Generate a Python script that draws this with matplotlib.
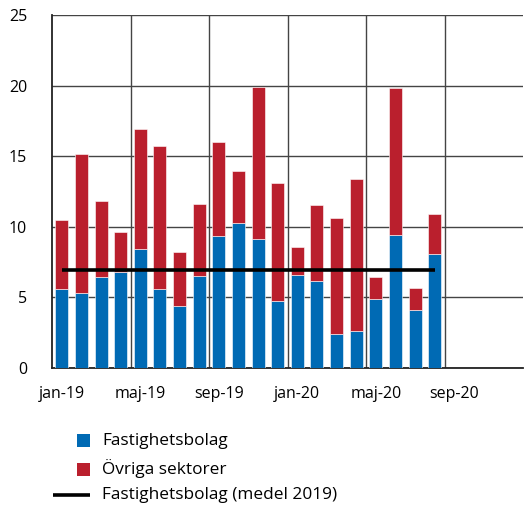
import matplotlib
matplotlib.use("Agg")
import matplotlib.pyplot as plt
from matplotlib.patches import Rectangle
from matplotlib.lines import Line2D
import numpy as np

plt.rcParams['font.family'] = ['Open Sans', 'DejaVu Sans']

months = ["jan-19", "feb-19", "mar-19", "apr-19", "maj-19", "jun-19", "jul-19", "aug-19",
          "sep-19", "okt-19", "nov-19", "dec-19", "jan-20", "feb-20", "mar-20", "apr-20",
          "maj-20", "jun-20", "jul-20", "aug-20"]
fastighetsbolag = [5.63, 5.32, 6.45, 6.81, 8.44, 5.56, 4.37, 6.50, 9.34, 10.28, 9.15, 4.78,
                   6.57, 6.19, 2.41, 2.62, 4.89, 9.41, 4.14, 8.04]
totalt = [10.50, 15.18, 11.82, 9.60, 16.90, 15.72, 8.23, 11.63, 15.98, 13.93, 19.90, 13.08,
          8.58, 11.51, 10.59, 13.38, 6.43, 19.80, 5.65, 10.92]
ovriga = [t - f for t, f in zip(totalt, fastighetsbolag)]
medel_2019 = 6.93

tick_labels = ["jan-19", "maj-19", "sep-19", "jan-20", "maj-20", "sep-20"]
tick_pos = [0, 4, 8, 12, 16, 20]

BLUE = "#006AB4"
RED = "#BA1F2D"

W, H = 524, 509
fig = plt.figure(figsize=(W / 100, H / 100), dpi=100)
ax = fig.add_axes([52 / W, 1 - 368 / H, (523 - 52) / W, (368 - 15) / H])

x = np.arange(len(months))
ax.bar(x, fastighetsbolag, width=0.66, color=BLUE, edgecolor="white", linewidth=0.4, zorder=3)
ax.bar(x, ovriga, bottom=fastighetsbolag, width=0.66, color=RED, edgecolor="white", linewidth=0.4, zorder=3)
ax.plot([x[0], x[-1]], [medel_2019, medel_2019], color="black", linewidth=2.6, zorder=4,
        solid_capstyle="butt")

ax.set_xlim(-0.5, 23.5)
ax.set_ylim(0, 25)
ax.set_yticks([0, 5, 10, 15, 20, 25])
ax.set_xticks(tick_pos)
ax.set_xticklabels(tick_labels)
ax.set_xticks(np.arange(3.5, 20, 4), minor=True)
ax.tick_params(axis="both", which="both", length=0, labelsize=11.5)
ax.tick_params(axis="x", pad=13)
ax.tick_params(axis="y", pad=18)

ax.grid(axis="y", color="#444444", linewidth=1.0, zorder=0)
ax.grid(axis="x", which="minor", color="#444444", linewidth=1.0, zorder=0)
ax.set_axisbelow(True)
for s in ["top", "right"]:
    ax.spines[s].set_visible(False)
ax.spines["left"].set_color("#222222")
ax.spines["bottom"].set_color("#222222")
ax.spines["left"].set_linewidth(1.3)
ax.spines["bottom"].set_linewidth(1.3)

# Legend (manual, below the chart)
def fx(px):
    return px / W

def fy(py):
    return 1 - py / H

fig.add_artist(Rectangle((fx(77), fy(447)), 13 / W, 13 / H, transform=fig.transFigure,
                         facecolor=BLUE, edgecolor="none"))
fig.add_artist(Rectangle((fx(77), fy(476)), 13 / W, 13 / H, transform=fig.transFigure,
                         facecolor=RED, edgecolor="none"))
fig.add_artist(Line2D([fx(53), fx(90)], [fy(495), fy(495)], transform=fig.transFigure,
                      color="black", linewidth=2.6, solid_capstyle="butt"))
legend_texts = ["Fastighetsbolag", "Övriga sektorer", "Fastighetsbolag (medel 2019)"]
for t, yy in zip(legend_texts, [441, 469, 495]):
    fig.text(fx(102), fy(yy), t, fontsize=12.4, va="center", ha="left")

fig.savefig("out.png", dpi=100)
